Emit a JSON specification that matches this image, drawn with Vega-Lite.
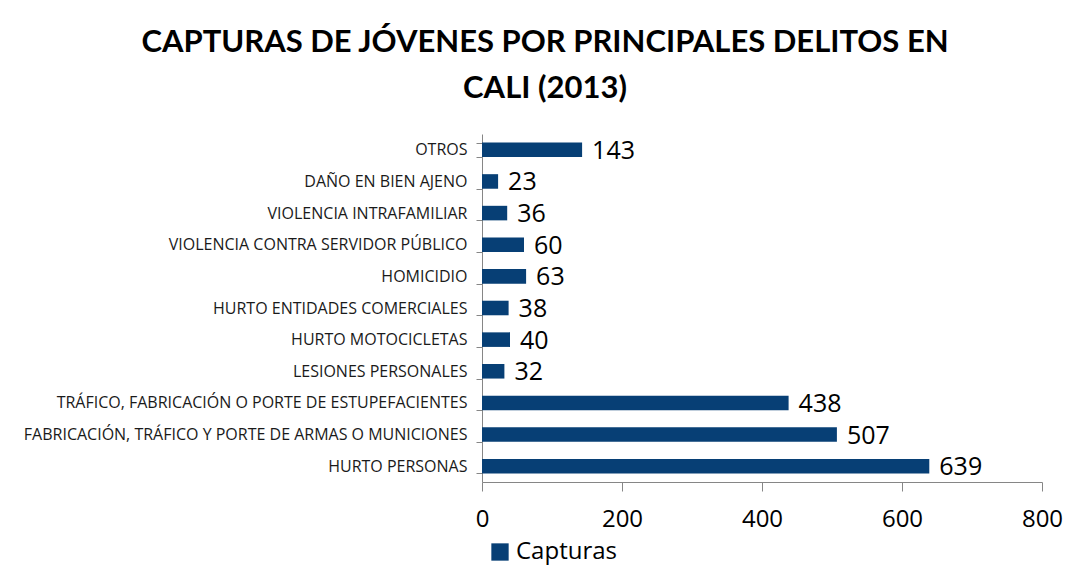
{
  "$schema": "https://vega.github.io/schema/vega-lite/v6.json",
  "autosize": {"type": "none"},
  "width": 560,
  "height": 348,
  "padding": {"left": 482, "top": 134, "right": 26, "bottom": 89},
  "background": "white",
  "title": {
    "text": ["CAPTURAS DE JÓVENES POR PRINCIPALES DELITOS EN", "CALI (2013)"],
    "font": "Lato",
    "fontSize": 31,
    "fontWeight": "bold",
    "color": "#000000",
    "anchor": "middle",
    "dx": -217,
    "offset": 21,
    "lineHeight": 46
  },
  "data": {
    "values": [
      {"delito": "OTROS", "capturas": 143, "serie": "Capturas"},
      {"delito": "DAÑO EN BIEN AJENO", "capturas": 23, "serie": "Capturas"},
      {"delito": "VIOLENCIA INTRAFAMILIAR", "capturas": 36, "serie": "Capturas"},
      {"delito": "VIOLENCIA CONTRA SERVIDOR PÚBLICO", "capturas": 60, "serie": "Capturas"},
      {"delito": "HOMICIDIO", "capturas": 63, "serie": "Capturas"},
      {"delito": "HURTO ENTIDADES COMERCIALES", "capturas": 38, "serie": "Capturas"},
      {"delito": "HURTO MOTOCICLETAS", "capturas": 40, "serie": "Capturas"},
      {"delito": "LESIONES PERSONALES", "capturas": 32, "serie": "Capturas"},
      {"delito": "TRÁFICO, FABRICACIÓN O PORTE DE ESTUPEFACIENTES", "capturas": 438, "serie": "Capturas"},
      {"delito": "FABRICACIÓN, TRÁFICO Y PORTE DE ARMAS O MUNICIONES", "capturas": 507, "serie": "Capturas"},
      {"delito": "HURTO PERSONAS", "capturas": 639, "serie": "Capturas"}
    ]
  },
  "encoding": {
    "y": {
      "field": "delito",
      "type": "nominal",
      "sort": null,
      "title": null,
      "scale": {"paddingInner": 0.54, "paddingOuter": 0.27},
      "axis": {
        "labelFont": "Open Sans",
        "labelFontSize": 16,
        "labelColor": "#1a1a1a",
        "labelPadding": 9,
        "labelLimit": 520,
        "tickBand": "extent",
        "tickSize": 6,
        "tickColor": "#868686",
        "domainColor": "#868686",
        "grid": false
      }
    },
    "x": {
      "field": "capturas",
      "type": "quantitative",
      "title": null,
      "scale": {"domain": [0, 800], "nice": false},
      "axis": {
        "values": [0, 200, 400, 600, 800],
        "labelFont": "Open Sans",
        "labelFontSize": 24,
        "labelColor": "#000000",
        "labelPadding": 16,
        "labelFlush": false,
        "tickSize": 9,
        "tickColor": "#868686",
        "domainColor": "#868686",
        "grid": false
      }
    }
  },
  "layer": [
    {
      "mark": {"type": "bar", "color": "#073f75"},
      "encoding": {
        "color": {
          "field": "serie",
          "type": "nominal",
          "scale": {"range": ["#073f75"]},
          "legend": {
            "title": null,
            "orient": "none",
            "legendX": 6,
            "legendY": 406,
            "symbolType": "square",
            "symbolSize": 300,
            "symbolStrokeWidth": 0,
            "labelFont": "Open Sans",
            "labelFontSize": 24,
            "labelColor": "#000000"
          }
        }
      }
    },
    {
      "mark": {"type": "text", "align": "left", "baseline": "middle", "dx": 10, "dy": 1, "font": "Open Sans", "fontSize": 25, "color": "#000000"},
      "encoding": {"text": {"field": "capturas", "type": "quantitative"}}
    }
  ],
  "config": {"view": {"stroke": null}}
}
